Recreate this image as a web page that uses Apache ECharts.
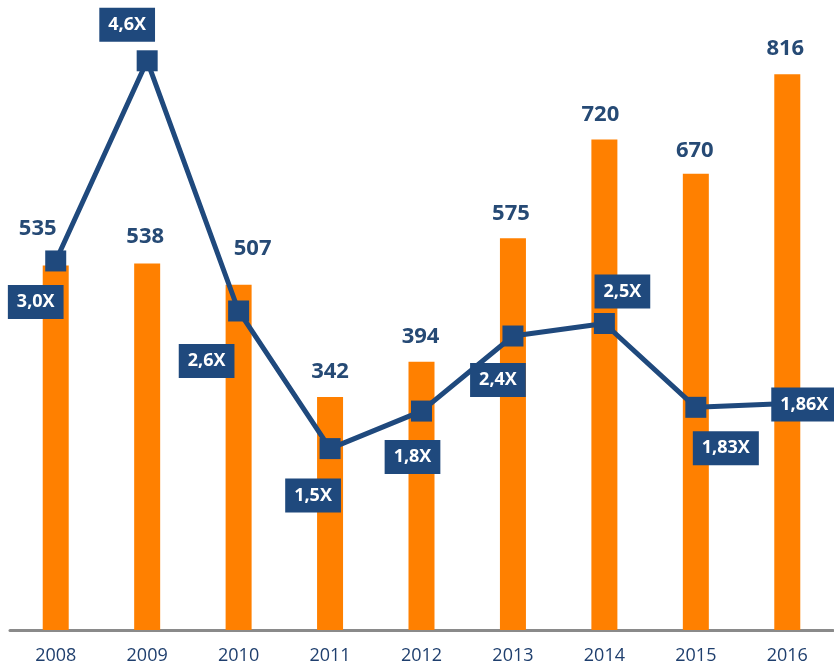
<!DOCTYPE html>
<html>
<head>
<meta charset="utf-8">
<style>
  html, body { margin: 0; padding: 0; background: #ffffff; }
  #chart { width: 834px; height: 669px; }
</style>
<script src="https://cdn.jsdelivr.net/npm/echarts@6/dist/echarts.min.js"></script>
</head>
<body>
<div id="chart"></div>
<script>
// ---- data ----
const years = ['2008', '2009', '2010', '2011', '2012', '2013', '2014', '2015', '2016'];
const barValues = [535, 538, 507, 342, 394, 575, 720, 670, 816];
const ratioValues = [3.0, 4.6, 2.6, 1.5, 1.8, 2.4, 2.5, 1.83, 1.86];
const ratioLabels = ['3,0X', '4,6X', '2,6X', '1,5X', '1,8X', '2,4X', '2,5X', '1,83X', '1,86X'];

// ---- label placement (layout only) ----
const barLabelOffsets = [[-18, -12], [-2, -2], [14, -11], [0, 0], [-1, 0], [-2, 0], [-4, 0], [-1, 2], [-2, 0]];
const ratioLabelOffsets = [[-20, 41], [-20, -36], [-32, 50], [-17, 47], [-9, 46], [-15, 44], [18, -32], [30, 41], [17, 1]];

const BLUE = '#1F497D';
const ORANGE = '#FF8000';
const FONT = '"Open Sans", "Noto Sans", sans-serif';

const chart = echarts.init(document.getElementById('chart'), null, { renderer: 'canvas' });

const barData = barValues.map((v, i) => ({
  value: v,
  label: { offset: barLabelOffsets[i] }
}));
const lineData = ratioValues.map((v, i) => ({
  value: v,
  label: { offset: ratioLabelOffsets[i], formatter: ratioLabels[i] }
}));

chart.setOption({
  animation: false,
  backgroundColor: '#ffffff',
  grid: { left: 10, right: 1, top: 17, bottom: 39, containLabel: false },
  xAxis: {
    type: 'category',
    data: years,
    boundaryGap: true,
    axisLine: { show: true, lineStyle: { color: '#8a8a8a', width: 3 } },
    axisTick: { show: false },
    axisLabel: { color: '#1F3F6E', fontFamily: FONT, fontSize: 18, margin: 17 },
    splitLine: { show: false }
  },
  yAxis: [
    { type: 'value', min: 0, max: 900, show: false, splitLine: { show: false } },
    { type: 'value', min: 0.05, max: 4.95, show: false, splitLine: { show: false } }
  ],
  series: [
    {
      type: 'bar',
      data: barData,
      yAxisIndex: 0,
      barWidth: 26,
      itemStyle: { color: ORANGE },
      label: {
        show: true,
        position: 'top',
        distance: 14,
        color: '#264A75',
        fontFamily: FONT,
        fontWeight: 'bold',
        fontSize: 22
      },
      z: 2
    },
    {
      type: 'line',
      data: lineData,
      yAxisIndex: 1,
      symbol: 'rect',
      symbolSize: 21,
      lineStyle: { color: BLUE, width: 5 },
      itemStyle: { color: BLUE },
      label: {
        show: true,
        position: 'inside',
        color: '#ffffff',
        fontFamily: FONT,
        fontWeight: 'bold',
        fontSize: 18,
        lineHeight: 18,
        backgroundColor: BLUE,
        padding: [8, 9]
      },
      z: 5
    }
  ]
});
</script>
</body>
</html>
